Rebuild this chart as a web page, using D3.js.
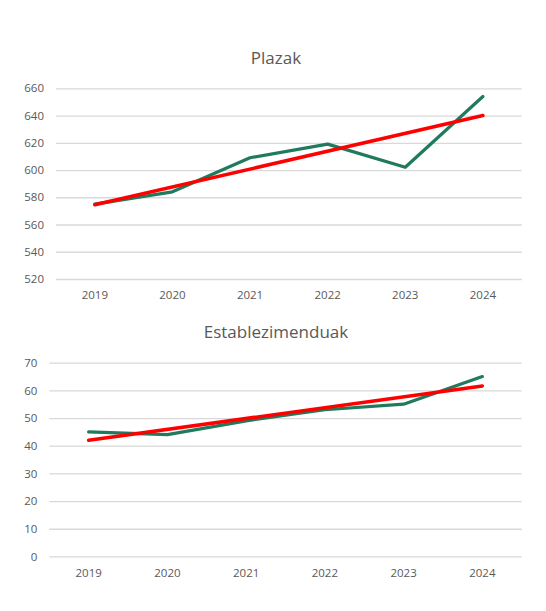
<!DOCTYPE html>
<html>
<head>
<meta charset="utf-8">
<script src="https://cdn.jsdelivr.net/npm/d3@7"></script>
<style>
	body { margin: 0; background: #fff; }
	svg text { font-family: "Open Sans", "Noto Sans", sans-serif; fill: #595959; }
</style>
</head>
<body>
<div id="chart"></div>
<script>
	///////////////////////////////////////////////////////////////////////////
	//////////////////////////////// Data /////////////////////////////////////
	///////////////////////////////////////////////////////////////////////////

	var years = ["2019", "2020", "2021", "2022", "2023", "2024"];

	var plazakValues = [575, 584, 609, 619, 602, 654];
	var plazakTrend = [574.5, 640]; //trendline at 2019 and 2024
	var plazakTicks = [520, 540, 560, 580, 600, 620, 640, 660];

	var estabValues = [45, 44, 49, 53, 55, 65];
	var estabTrend = [42, 61.6]; //trendline at 2019 and 2024
	var estabTicks = [0, 10, 20, 30, 40, 50, 60, 70];

	///////////////////////////////////////////////////////////////////////////
	//////////////////////////// SVG container ////////////////////////////////
	///////////////////////////////////////////////////////////////////////////

	var width = 546,
		height = 611;

	var svg = d3.select("#chart").append("svg")
		.attr("width", width)
		.attr("height", height);

	var green = "#207a5d",
		red = "#ff0000";

	//Draws one panel: title, grid, axes, data line and trendline
	function drawPanel(opt) {
		var g = svg.append("g");

		var x = d3.scaleBand()
			.domain(years)
			.range([opt.left, opt.right])
			.padding(0);

		var y = d3.scaleLinear()
			.domain(d3.extent(opt.ticks))
			.range([opt.bottom, opt.top]);

		//Title
		g.append("text")
			.attr("x", opt.titleX)
			.attr("y", opt.titleY)
			.attr("text-anchor", "middle")
			.style("font-size", "17px")
			.text(opt.title);

		//Y axis with gridlines
		var yAxis = g.append("g")
			.attr("transform", "translate(" + opt.left + ",0)")
			.call(d3.axisLeft(y)
				.tickValues(opt.ticks)
				.tickSize(-(opt.right - opt.left))
				.tickPadding(12));
		yAxis.select(".domain").remove();
		yAxis.selectAll("line")
			.attr("stroke", "#d9d9d9")
			.attr("stroke-width", 1.3);
		yAxis.selectAll("text")
			.style("font-size", "11.5px")
			.style("fill", "#595959");

		//X axis labels
		var xAxis = g.append("g")
			.attr("transform", "translate(0," + opt.bottom + ")")
			.call(d3.axisBottom(x).tickSize(0).tickPadding(12));
		xAxis.select(".domain").remove();
		xAxis.selectAll("text")
			.style("font-size", "11.5px")
			.style("fill", "#595959");

		var cx = function(d, i) { return x(years[i]) + x.bandwidth()/2; };

		//Data line
		var line = d3.line()
			.x(cx)
			.y(function(d) { return y(d); });

		g.append("path")
			.datum(opt.values)
			.attr("d", line)
			.style("fill", "none")
			.style("stroke", green)
			.style("stroke-width", 3.2)
			.style("stroke-linejoin", "round")
			.style("stroke-linecap", "round");

		//Trendline from first to last year
		var ends = [years[0], years[years.length - 1]];
		g.append("path")
			.datum(opt.trend)
			.attr("d", d3.line()
				.x(function(d, i) { return x(ends[i]) + x.bandwidth()/2; })
				.y(function(d) { return y(d); }))
			.style("fill", "none")
			.style("stroke", red)
			.style("stroke-width", 3.5)
			.style("stroke-linecap", "round");
	}//function drawPanel

	drawPanel({
		title: "Plazak", titleX: 276, titleY: 64,
		values: plazakValues, trend: plazakTrend, ticks: plazakTicks,
		left: 56, right: 521.7, top: 88.3, bottom: 279
	});

	drawPanel({
		title: "Establezimenduak", titleX: 276, titleY: 338,
		values: estabValues, trend: estabTrend, ticks: estabTicks,
		left: 49.3, right: 521.7, top: 362.7, bottom: 556.4
	});
</script>
</body>
</html>
